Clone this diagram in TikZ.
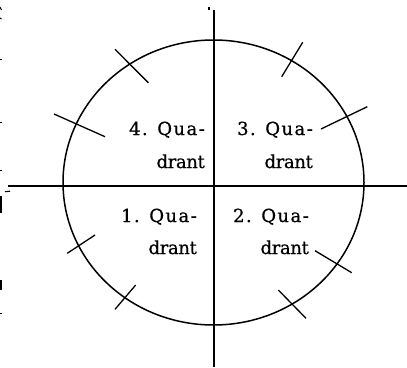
\documentclass[tikz,border=0pt]{standalone}
\usepackage{fontspec}
\newfontfamily\qfontA[LetterSpace=8,FakeBold=0.6]{DejaVu Serif}
\newfontfamily\qfontB[LetterSpace=-2,FakeBold=0.6]{DejaVu Serif}
\begin{document}
\begin{tikzpicture}[x=1pt,y=-1pt,
  axis/.style={line width=1.8pt,black},
  oval/.style={line width=1.5pt,black},
  tick/.style={line width=1.3pt,black},
  frag/.style={line width=1.1pt,black},
  labA/.style={inner sep=0pt,anchor=base east,font=\qfontA\fontsize{18}{22}\selectfont},
  labB/.style={inner sep=0pt,anchor=base east,font=\qfontB\fontsize{18}{22}\selectfont}]
\useasboundingbox[fill=white] (0,0) rectangle (407,367);
% axes
\coordinate (xl) at (8,186);
\coordinate (xr) at (407,186);
\coordinate (yt) at (214.3,9.5);
\coordinate (yb) at (214.3,367);
\draw[axis] (xl) -- (xr);
\draw[axis] (yt) -- (yb);
% ellipse
\coordinate (c) at (213.5,182.5);
\draw[oval] (c) ellipse [x radius=150.5, y radius=142.5];
% tick marks
\coordinate (t1a) at (115,49.3);  \coordinate (t1b) at (148.3,82.7);
\coordinate (t2a) at (54,114);    \coordinate (t2b) at (105,136.7);
\coordinate (t3a) at (302.7,42.3); \coordinate (t3b) at (281.7,76.7);
\coordinate (t4a) at (367.3,106.7); \coordinate (t4b) at (321,129);
\coordinate (t5a) at (95,235);    \coordinate (t5b) at (67.3,253.3);
\coordinate (t6a) at (135.7,285); \coordinate (t6b) at (115,309.3);
\coordinate (t7a) at (315,250.7); \coordinate (t7b) at (351.7,272.7);
\coordinate (t8a) at (278.3,290); \coordinate (t8b) at (306,318.3);
\foreach \i in {1,...,8} \draw[tick] (t\i a) -- (t\i b);
% labels
\node[labA] (q4a) at (205,135) {4. Qua-};
\node[labB] (q4b) at (205,168) {drant};
\node[labA] (q3a) at (313,135) {3. Qua-};
\node[labB] (q3b) at (313,168) {drant};
\node[labA] (q1a) at (197,222) {1. Qua-};
\node[labB] (q1b) at (197,254) {drant};
\node[labA] (q2a) at (309,222) {2. Qua-};
\node[labB] (q2b) at (309,254) {drant};
% small fragments
\fill (208.3,6.5) rectangle (210,10);
\draw[frag] (0,7) -- (1.5,10);
\draw[frag] (0,18) -- (1.5,19);
\fill (0,58.5) rectangle (1.5,60);
\fill (0,121.5) rectangle (1.5,123);
\fill (0,169.5) rectangle (1.5,171);
\draw[frag] (5,191.7) -- (10,191.2);
\fill (0,196) rectangle (2.2,213);
\fill (0,280) rectangle (2.2,290);
\fill (0,312.5) rectangle (1.5,314);
\end{tikzpicture}
\end{document}
